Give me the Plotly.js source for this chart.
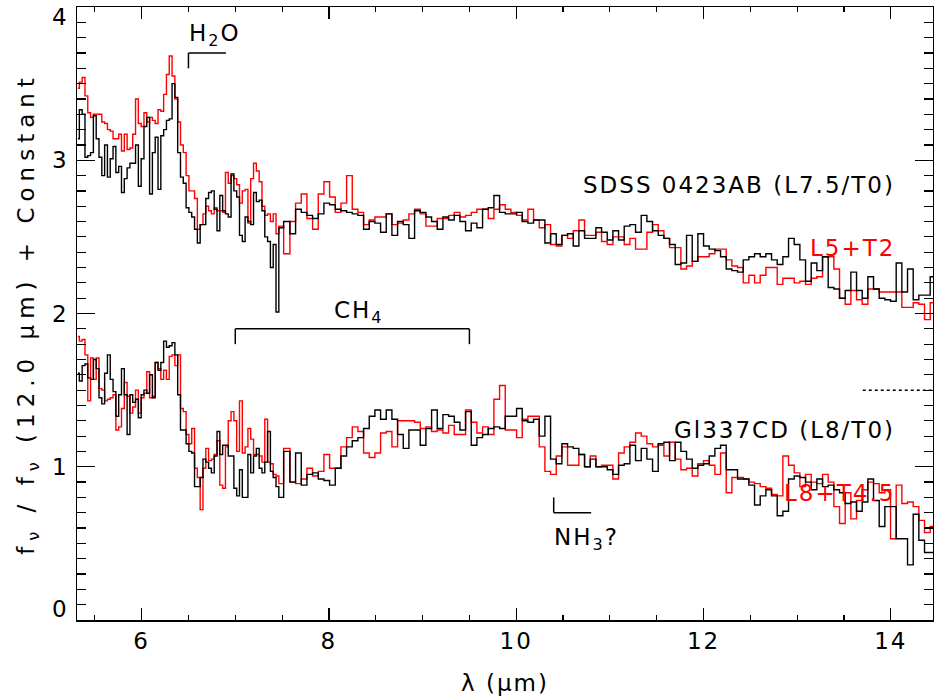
<!DOCTYPE html>
<html><head><meta charset="utf-8">
<script src="https://cdn.plot.ly/plotly-3.0.1.min.js"></script>
<style>
html,body{margin:0;padding:0;background:#fff;}
#chart{width:934px;height:698px;}
text{letter-spacing:2px;}
text.ytitle{letter-spacing:6px;}
</style>
</head><body><div id="chart"></div>
<script>
// Wavelength bin centres (micron): short-low order 2, then order 1
const waveSL2 = [5.32,5.35,5.38,5.41,5.44,5.47,5.50,5.53,5.56,5.59,5.62,5.65,5.68,5.71,5.74,5.77,5.80,5.83,5.86,5.89,5.92,5.95,5.98,6.01,6.04,6.07,6.10,6.13,6.16,6.19,6.22,6.25,6.28,6.31,6.34,6.37,6.40,6.43,6.46,6.49,6.52,6.55,6.58,6.61,6.64,6.67,6.70,6.73,6.76,6.79,6.82,6.85,6.88,6.91,6.94,6.97,7.00,7.03,7.06,7.09,7.12,7.15,7.18,7.21,7.24,7.27,7.30,7.33,7.36,7.39,7.42,7.45,7.48];
const waveSL1 = [7.553,7.614,7.674,7.735,7.795,7.856,7.916,7.977,8.037,8.098,8.158,8.219,8.279,8.340,8.400,8.461,8.521,8.582,8.642,8.703,8.763,8.824,8.884,8.945,9.005,9.066,9.126,9.187,9.247,9.308,9.368,9.429,9.489,9.550,9.610,9.671,9.731,9.792,9.852,9.913,9.973,10.034,10.094,10.155,10.215,10.276,10.336,10.397,10.457,10.518,10.578,10.639,10.699,10.760,10.820,10.881,10.941,11.002,11.062,11.123,11.183,11.244,11.304,11.365,11.425,11.486,11.546,11.607,11.667,11.728,11.788,11.849,11.909,11.970,12.030,12.091,12.151,12.212,12.272,12.333,12.393,12.454,12.514,12.575,12.635,12.696,12.756,12.817,12.877,12.938,12.998,13.059,13.119,13.180,13.240,13.301,13.361,13.422,13.482,13.543,13.603,13.664,13.724,13.785,13.845,13.906,13.966,14.027,14.087,14.148,14.208,14.269,14.329,14.390,14.450];

// SDSS 0423AB observed (black) and L5+T2 template (red), offset spectra
const sdssObs = [3.14,3.33,3.30,3.02,3.03,3.05,3.29,3.14,3.02,2.90,3.10,2.89,3.01,3.09,2.92,2.96,2.79,2.88,2.95,2.98,2.98,3.10,2.83,3.01,3.22,3.28,2.78,3.05,3.15,2.81,3.16,3.20,3.26,3.27,3.50,3.41,3.05,2.89,2.85,2.69,2.66,2.63,2.55,2.46,2.58,2.58,2.75,2.79,2.80,2.68,2.54,2.77,2.67,2.65,2.63,2.91,2.80,2.76,2.51,2.47,2.63,2.60,2.58,2.79,2.73,2.74,2.67,2.50,2.47,2.30,2.45,2.01,2.56,
2.60,2.52,2.68,2.66,2.64,2.62,2.65,2.72,2.71,2.68,2.67,2.66,2.65,2.64,2.55,2.60,2.59,2.53,2.65,2.51,2.60,2.58,2.49,2.67,2.66,2.63,2.60,2.55,2.63,2.61,2.64,2.60,2.54,2.59,2.56,2.68,2.69,2.77,2.66,2.65,2.65,2.66,2.60,2.59,2.61,2.61,2.46,2.52,2.45,2.51,2.52,2.44,2.54,2.49,2.49,2.56,2.53,2.48,2.54,2.48,2.57,2.58,2.53,2.64,2.60,2.54,2.51,2.49,2.45,2.32,2.33,2.51,2.34,2.52,2.44,2.42,2.41,2.37,2.29,2.28,2.27,2.35,2.37,2.39,2.37,2.39,2.35,2.32,2.37,2.49,2.45,2.35,2.21,2.33,2.28,2.37,2.17,2.16,2.10,2.15,2.27,2.15,2.10,2.24,2.16,2.10,2.09,2.08,2.33,2.14,2.29,2.09,2.12,2.12,2.24];
const sdssTmpl = [3.47,3.51,3.54,3.42,3.31,3.28,3.30,3.30,3.30,3.25,3.24,3.20,3.19,3.14,3.14,3.17,3.06,3.17,3.07,3.08,3.17,3.40,3.24,3.22,3.31,3.25,3.28,3.26,3.24,3.33,3.32,3.43,3.56,3.68,3.55,3.40,3.25,3.10,3.05,2.90,2.80,2.80,2.75,2.55,2.58,2.65,2.70,2.67,2.65,2.69,2.67,2.67,2.66,2.92,2.85,2.90,2.88,2.84,2.72,2.80,2.81,2.59,2.88,2.98,2.93,2.86,2.70,2.64,2.65,2.60,2.65,2.52,2.57,
2.39,2.60,2.72,2.78,2.62,2.55,2.78,2.86,2.76,2.66,2.72,2.90,2.68,2.66,2.58,2.61,2.63,2.63,2.65,2.58,2.59,2.61,2.65,2.68,2.65,2.57,2.57,2.62,2.62,2.64,2.66,2.63,2.64,2.66,2.68,2.68,2.62,2.68,2.71,2.68,2.66,2.64,2.61,2.68,2.61,2.56,2.58,2.45,2.44,2.51,2.49,2.54,2.61,2.51,2.51,2.53,2.47,2.45,2.50,2.50,2.45,2.49,2.42,2.42,2.53,2.58,2.54,2.49,2.43,2.43,2.29,2.31,2.34,2.37,2.37,2.39,2.42,2.42,2.35,2.31,2.30,2.20,2.25,2.20,2.25,2.30,2.30,2.19,2.23,2.23,2.20,2.21,2.19,2.23,2.24,2.37,2.37,2.29,2.10,2.06,2.15,2.09,2.06,2.16,2.16,2.14,2.14,2.14,2.14,2.04,2.04,2.07,2.06,1.96,2.07];

// Gl 337CD observed (black) and L8+T4.5 template (red)
const glObs = [1.61,1.56,1.66,1.67,1.58,1.57,1.70,1.64,1.45,1.41,1.61,1.73,1.57,1.49,1.33,1.47,1.64,1.47,1.21,1.47,1.42,1.44,1.32,1.47,1.50,1.48,1.60,1.45,1.68,1.63,1.68,1.82,1.78,1.79,1.81,1.73,1.47,1.24,1.24,1.15,1.10,1.09,0.87,0.87,0.93,1.05,1.03,0.99,0.96,1.07,1.23,1.08,1.14,1.14,1.07,1.07,0.86,0.81,0.98,0.80,0.80,1.08,0.96,1.07,1.12,0.99,0.96,1.03,1.23,0.97,0.93,0.87,0.80,
1.10,0.90,1.09,0.88,0.95,0.96,0.92,0.91,0.88,0.99,1.07,1.13,1.17,1.19,1.25,1.33,1.37,1.31,1.37,1.31,1.21,1.12,1.24,1.24,1.14,1.25,1.37,1.25,1.34,1.33,1.29,1.24,1.36,1.14,1.19,1.21,1.25,1.26,1.25,1.33,1.33,1.38,1.30,1.29,1.31,1.20,1.33,1.05,1.02,1.15,1.13,1.12,1.08,1.00,1.05,1.00,1.00,0.98,0.95,1.01,1.02,1.14,1.04,1.12,1.05,0.97,1.15,1.16,1.04,1.16,1.10,1.05,0.99,1.01,1.02,1.07,1.12,1.14,0.98,0.98,0.92,0.92,0.88,0.75,0.81,0.85,0.81,0.68,0.71,0.92,0.94,0.93,0.90,0.85,0.92,0.87,0.88,0.85,0.83,0.76,0.77,0.71,0.77,0.92,0.78,0.61,0.74,0.74,0.53,0.53,0.36,0.69,0.52,0.44,0.44];
const glTmpl = [1.85,1.82,1.83,1.73,1.43,1.71,1.57,1.71,1.51,1.50,1.43,1.44,1.45,1.47,1.24,1.26,1.38,1.55,1.46,1.35,1.39,1.50,1.35,1.45,1.48,1.62,1.45,1.46,1.68,1.64,1.57,1.63,1.57,1.72,1.73,1.66,1.73,1.38,1.36,1.21,1.15,1.25,0.99,0.93,0.72,0.99,1.12,1.04,1.05,1.08,1.17,0.88,0.86,1.13,1.30,1.36,1.30,1.10,1.43,1.09,1.13,1.25,1.18,1.08,1.08,1.07,1.03,1.31,1.03,1.02,0.95,0.94,0.89,
1.12,0.90,0.89,0.92,0.99,0.94,0.97,1.08,0.99,0.99,1.13,1.19,1.26,1.23,1.09,1.06,1.09,1.22,1.23,1.13,1.30,1.30,1.30,1.29,1.25,1.26,1.23,1.24,1.22,1.27,1.21,1.21,1.37,1.29,1.22,1.26,1.21,1.44,1.53,1.24,1.24,1.19,1.31,1.33,1.33,1.13,0.97,0.95,1.07,1.13,1.01,1.01,1.08,1.00,1.07,1.00,1.01,1.01,0.92,1.09,1.13,1.16,1.22,1.20,1.15,1.13,1.14,1.07,1.16,1.05,0.98,0.99,0.94,1.02,1.04,1.01,0.95,1.09,0.83,0.93,0.93,0.92,0.90,0.89,0.87,0.86,0.82,0.81,1.07,1.01,0.96,0.87,0.95,0.90,0.89,0.95,0.90,0.74,0.63,0.83,0.66,0.78,0.85,0.90,0.89,0.83,0.85,0.53,0.88,0.76,0.77,0.74,0.65,0.57,0.61];

const yTickVals = [0, 1, 2, 3, 4];
const yTickText = ['0', '1', '2', '3', '4'];
const xTickVals = [6, 8, 10, 12, 14];
const xTickText = ['6', '8', '10', '12', '14'];

const wave = waveSL2.concat(waveSL1);
const FONT = 'DejaVu Sans';
const FS = 23;
const BLACK = '#000000', RED = '#ff0000';

function spec(y, color, name) {
  return {x: wave, y: y, name: name, type: 'scatter', mode: 'lines',
    line: {shape: 'hvh', color: color, width: 1.4}, showlegend: false, hoverinfo: 'skip'};
}
const data = [
  spec(sdssTmpl, RED, 'L5+T2'),
  spec(sdssObs, BLACK, 'SDSS 0423AB'),
  spec(glTmpl, RED, 'L8+T4.5'),
  spec(glObs, BLACK, 'Gl337CD')
];

const ann = [];
function txt(x, y, t, color, xanchor) {
  ann.push({x: x, y: y, xref: 'x', yref: 'y', text: t, showarrow: false, xanchor: xanchor, yanchor: 'middle',
    font: {family: FONT, size: FS, color: color}});
}
txt(14.07, 2.84, 'SDSS 0423AB (L7.5/T0)', BLACK, 'right');
txt(14.07, 2.43, 'L5+T2', RED, 'right');
txt(14.07, 1.24, 'Gl337CD (L8/T0)', BLACK, 'right');
txt(14.07, 0.83, 'L8+T4.5', RED, 'right');
txt(6.48, 3.82, 'H<sub>2</sub>O', BLACK, 'left');
txt(8.03, 2.01, 'CH<sub>4</sub>', BLACK, 'left');
txt(10.38, 0.53, 'NH<sub>3</sub>?', BLACK, 'left');
yTickVals.forEach((v, i) => {
  ann.push({x: 0, xref: 'paper', y: v, yref: 'y', text: yTickText[i], showarrow: false,
    xanchor: 'right', yanchor: 'middle', xshift: -6,
    yshift: (v === 0 ? 11 : (v === 4 ? -10 : 0)),
    font: {family: FONT, size: FS, color: BLACK}});
});

function seg(x0, y0, x1, y1, dash) {
  return {type: 'line', xref: 'x', yref: 'y', x0: x0, y0: y0, x1: x1, y1: y1,
    line: {color: BLACK, width: 1.5, dash: dash || 'solid'}};
}
const shapes = [
  seg(6.5, 3.60, 6.5, 3.70), seg(6.5, 3.70, 6.9, 3.70),
  seg(7.0, 1.80, 7.0, 1.90), seg(7.0, 1.90, 9.5, 1.90), seg(9.5, 1.90, 9.5, 1.80),
  seg(10.4, 0.80, 10.4, 0.70), seg(10.4, 0.70, 10.8, 0.70),
  seg(13.7, 1.5, 14.45, 1.5, 'dot')
];

const layout = {
  width: 934, height: 698,
  margin: {l: 77, r: 1, t: 7, b: 78},
  paper_bgcolor: '#ffffff', plot_bgcolor: '#ffffff',
  showlegend: false,
  xaxis: {
    range: [5.31, 14.45], showgrid: false, zeroline: false,
    showline: true, mirror: 'allticks', linecolor: BLACK, linewidth: 1.5,
    ticks: 'inside', ticklen: 12, tickwidth: 1.2, tickcolor: BLACK,
    tickvals: xTickVals, ticktext: xTickText,
    tickfont: {family: FONT, size: FS, color: BLACK},
    minor: {dtick: 0.5, tick0: 0, ticks: 'inside', ticklen: 5, tickwidth: 1.2, tickcolor: BLACK, showgrid: false},
    title: {text: 'λ (μm)', font: {family: FONT, size: FS, color: BLACK}, standoff: 22}
  },
  yaxis: {
    range: [0, 4], showgrid: false, zeroline: false,
    showline: true, mirror: 'allticks', linecolor: BLACK, linewidth: 1.5,
    ticks: 'inside', ticklen: 18, tickwidth: 1.2, tickcolor: BLACK,
    tickvals: yTickVals, showticklabels: false,
    minor: {dtick: 0.1, tick0: 0, ticks: 'inside', ticklen: 9, tickwidth: 1.2, tickcolor: BLACK, showgrid: false},
    title: {text: 'f<sub>ν</sub> / f<sub>ν</sub> (12.0 μm) + Constant', font: {family: FONT, size: FS, color: BLACK}, standoff: 34}
  },
  annotations: ann,
  shapes: shapes
};

Plotly.newPlot('chart', data, layout, {staticPlot: true, displayModeBar: false});
</script>
</body></html>
